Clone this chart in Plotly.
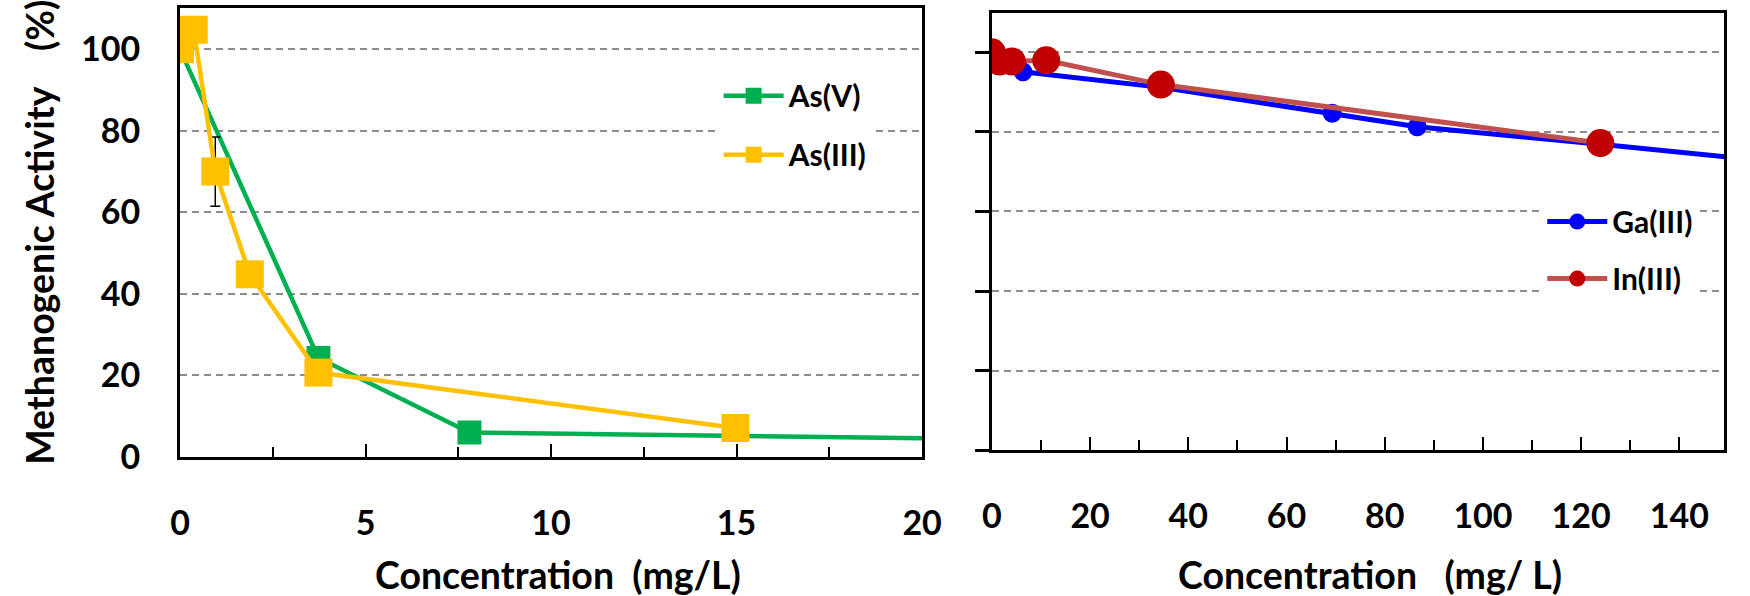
import plotly.graph_objects as go

# ---------------- data ----------------
as5_x = [0, 3.73, 7.8, 30]
as5_y = [100, 24.3, 6.0, 3.45]

as3_x = [0, 0.37, 0.95, 1.88, 3.73, 14.97]
as3_y = [100, 104.8, 70.0, 44.8, 20.7, 7.1]
as3_err = [0, 0, 8.5, 0, 0, 0]

ga_x = [0, 6.35, 34.5, 69.3, 86.6, 123.9, 173]
ga_y = [100, 95.1, 91.2, 84.7, 81.3, 76.9, 70.8]

in_x = [0, 1.54, 4.07, 11.07, 34.4, 123.9]
in_y = [100, 97.7, 97.7, 98.0, 91.9, 77.2]

left_xticks = [0, 5, 10, 15, 20]
right_xticks = [0, 20, 40, 60, 80, 100, 120, 140]
yticks = [0, 20, 40, 60, 80, 100]

FONT = "Lato"
W, H = 1750, 596

fig = go.Figure()

fig.add_trace(go.Scatter(
    x=as5_x, y=as5_y, name="As(V)", mode="lines+markers",
    line=dict(color="#00B050", width=4.5),
    marker=dict(symbol="square", size=24, color="#00B050"),
    xaxis="x", yaxis="y", legend="legend", legendgroup="a"))

fig.add_trace(go.Scatter(
    x=as3_x, y=as3_y, name="As(III)", mode="lines+markers",
    line=dict(color="#FFC000", width=4.5),
    marker=dict(symbol="square", size=28, color="#FFC000"),
    error_y=dict(type="data", array=as3_err, color="black", thickness=1.5, width=5),
    xaxis="x", yaxis="y", legend="legend", legendgroup="b"))

fig.add_trace(go.Scatter(
    x=ga_x, y=ga_y, name="Ga(III)", mode="lines+markers",
    line=dict(color="#0000FF", width=5),
    marker=dict(symbol="circle", size=19, color="#0000FF"),
    xaxis="x2", yaxis="y2", legend="legend2", legendgroup="c"))

fig.add_trace(go.Scatter(
    x=in_x, y=in_y, name="In(III)", mode="lines+markers",
    line=dict(color="#C0504D", width=5),
    marker=dict(symbol="circle", size=28, color="#C00000"),
    xaxis="x2", yaxis="y2", legend="legend2", legendgroup="d"))

tickfont = dict(family=FONT, size=34, color="black", weight="bold")
grid = dict(showgrid=True, gridcolor="#8c8c8c", gridwidth=1.5, griddash="7px,5px")
titlefont = dict(family=FONT, size=37.5, color="black", weight="bold")

fig.update_layout(
    width=W, height=H, margin=dict(l=0, r=0, t=0, b=0),
    paper_bgcolor="white", plot_bgcolor="white",
    font=dict(family=FONT, color="black"),
    xaxis=dict(domain=[173 / W, 928 / W], range=[0, 20], tickvals=left_xticks,
               ticks="inside", ticklen=13, tickwidth=2, tickcolor="black",
               minor=dict(dtick=2.5, tick0=0, ticks="inside", ticklen=10, tickwidth=2,
                          tickcolor="black", showgrid=False),
               showline=True, linewidth=3, linecolor="black", mirror=True,
               showgrid=False, zeroline=False, tickfont=tickfont, ticklabelstandoff=34,
               anchor="y"),
    yaxis=dict(domain=[(H - 472) / H, (H - 8) / H], range=[0, 110.2], tickvals=yticks,
               ticks="", showline=True, linewidth=3, linecolor="black", mirror=True,
               zeroline=False, tickfont=tickfont, ticklabelstandoff=30, anchor="x", **grid),
    xaxis2=dict(domain=[999 / W, 1744 / W], range=[0, 149.1], tickvals=right_xticks,
                ticks="inside", ticklen=13, tickwidth=2, tickcolor="black",
                minor=dict(dtick=10, tick0=0, ticks="inside", ticklen=10, tickwidth=2,
                           tickcolor="black", showgrid=False),
                showline=True, linewidth=3, linecolor="black", mirror=True,
                showgrid=False, zeroline=False, tickfont=tickfont, ticklabelstandoff=34,
                anchor="y2"),
    yaxis2=dict(domain=[(H - 465) / H, (H - 13) / H], range=[0, 110.0], tickvals=yticks,
                ticks="outside", ticklen=14, tickwidth=3, tickcolor="black",
                showticklabels=False, showline=True, linewidth=3, linecolor="black",
                mirror=True, zeroline=False, anchor="x2", **grid),
    legend=dict(x=721 / W, y=(H - 72) / H, xanchor="left", yanchor="top",
                bgcolor="white", borderwidth=0, itemwidth=60,
                traceorder="grouped", tracegroupgap=17,
                font=dict(family=FONT, size=30, color="black", weight="bold")),
    legend2=dict(x=1559 / W, y=(H - 202) / H, xanchor="left", yanchor="top",
                 bgcolor="white", borderwidth=0, itemwidth=60,
                 traceorder="grouped", tracegroupgap=15,
                 font=dict(family=FONT, size=30, color="black", weight="bold")),
    annotations=[
        dict(text="Methanogenic Activity\u00a0\u00a0\u00a0\u00a0(%)", textangle=-90,
             showarrow=False, xref="paper", yref="paper", x=30 / W, y=(H - 240) / H,
             xanchor="center", yanchor="middle",
             font=dict(family=FONT, size=37.5, color="black", weight="bold")),
        dict(text="Concentration\u00a0\u00a0(mg/L)", showarrow=False,
             xref="paper", yref="paper", x=558 / W, y=(H - 593) / H,
             xanchor="center", yanchor="middle", font=titlefont),
        dict(text="Concentration\u00a0\u00a0\u00a0(mg/ L)", showarrow=False,
             xref="paper", yref="paper", x=1384 / W, y=(H - 593) / H,
             xanchor="center", yanchor="middle", font=titlefont),
    ],
)

fig.write_html("out.html")
